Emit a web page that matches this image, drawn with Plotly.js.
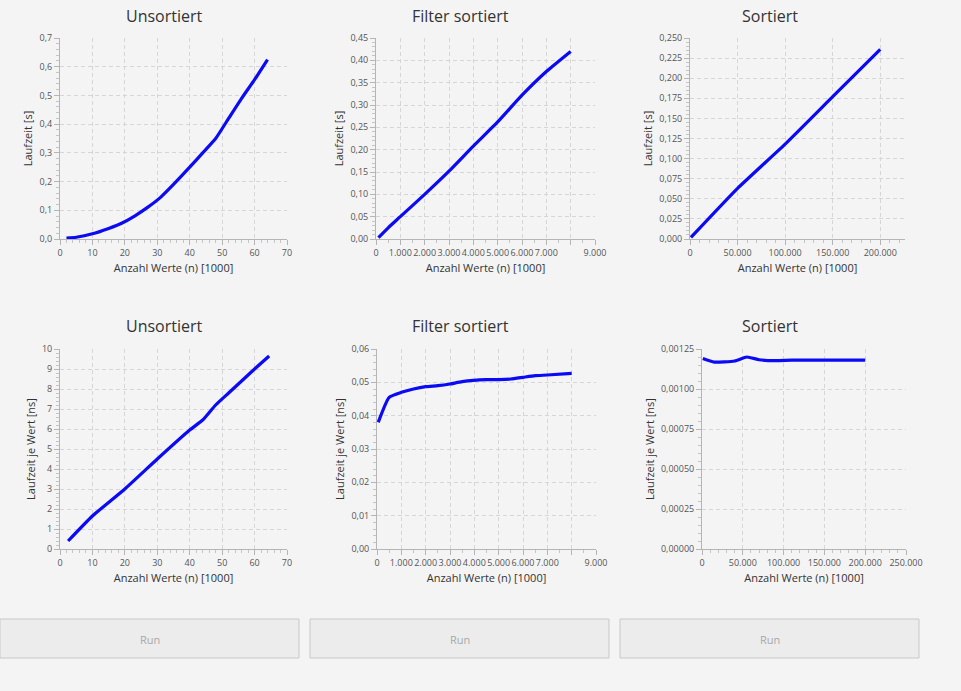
<!DOCTYPE html>
<html>
<head>
<meta charset="utf-8">
<script src="https://cdn.plot.ly/plotly-3.0.1.min.js"></script>
<style>body{margin:0;background:#f4f4f4}#myDiv{width:961px;height:691px}</style>
</head>
<body>
<div id="myDiv"></div>
<script>
// values, x in [1000]
var unsortX = [2, 5, 10, 15, 19, 23, 27, 31, 35, 40, 44, 48, 52, 56, 60, 64];
var unsortT = [0.003, 0.006, 0.018, 0.037, 0.055, 0.08, 0.11, 0.145, 0.19, 0.25, 0.30, 0.35, 0.42, 0.49, 0.555, 0.625];
var unsortPX = [2.5, 10, 20, 30, 40, 44, 48, 52, 56, 60, 64.5];
var unsortP = [0.4, 1.65, 3.0, 4.5, 5.95, 6.45, 7.2, 7.8, 8.4, 9.0, 9.65];

var filterX = [100, 500, 1000, 2000, 3000, 4000, 5000, 6000, 7000, 8000];
var filterT = [0.003, 0.025, 0.05, 0.1, 0.152, 0.208, 0.262, 0.322, 0.375, 0.42];
var filterPX = [50, 500, 1000, 1500, 2000, 2500, 3000, 3500, 4500, 5000, 5500, 6000, 6500, 7000, 8000];
var filterP = [0.038, 0.0455, 0.047, 0.048, 0.0487, 0.049, 0.0495, 0.0502, 0.0508, 0.0508, 0.051, 0.0515, 0.052, 0.0522, 0.0527];

var sortX = [1000, 50000, 100000, 150000, 200000];
var sortT = [0.002, 0.063, 0.118, 0.177, 0.236];
var sortPX = [1000, 15000, 40000, 55000, 70000, 90000, 110000, 150000, 200000];
var sortP = [0.00119, 0.001168, 0.001175, 0.0012, 0.001183, 0.001177, 0.00118, 0.00118, 0.00118];

var titles = ['Unsortiert', 'Filter sortiert', 'Sortiert'];
var W = 961, H = 691;
function px(a, b) { return [a / W, b / W]; }
function py(top, bottom) { return [1 - bottom / H, 1 - top / H]; }

var lineStyle = {color: '#0a0af5', width: 3.2, shape: 'spline', smoothing: 0.5};
var data = [
  {x: unsortX, y: unsortT, xaxis: 'x', yaxis: 'y'},
  {x: filterX, y: filterT, xaxis: 'x2', yaxis: 'y2'},
  {x: sortX, y: sortT, xaxis: 'x3', yaxis: 'y3'},
  {x: unsortPX, y: unsortP, xaxis: 'x4', yaxis: 'y4'},
  {x: filterPX, y: filterP, xaxis: 'x5', yaxis: 'y5'},
  {x: sortPX, y: sortP, xaxis: 'x6', yaxis: 'y6'}
].map(function (t) {
  t.type = 'scatter'; t.mode = 'lines'; t.line = lineStyle; t.hoverinfo = 'x+y';
  return t;
});

var font = 'Open Sans, sans-serif';
function xax(dom, range, dtick, anchor) {
  return {
    domain: dom, range: range, dtick: dtick, tick0: 0, anchor: anchor,
    tickformat: ',d', tickangle: 0, showline: true, linecolor: '#b5b5b5', zeroline: false,
    showgrid: true, gridcolor: '#d6d6d6', griddash: '4px,3px',
    ticks: 'outside', ticklen: 5, tickcolor: '#b5b5b5',
    minor: {ticks: 'outside', ticklen: 3, tickcolor: '#c5c5c5', nticks: 5, showgrid: false},
    tickfont: {family: font, size: 9, color: '#555'},
    title: {text: 'Anzahl Werte (n) [1000]', font: {family: font, size: 11, color: '#333'}, standoff: 6},
    fixedrange: true
  };
}
function yax(dom, range, dtick, fmt, label, anchor) {
  return {
    domain: dom, range: range, dtick: dtick, tick0: 0, anchor: anchor,
    tickformat: fmt, showline: true, linecolor: '#b5b5b5', zeroline: false,
    showgrid: true, gridcolor: '#d6d6d6', griddash: '4px,3px',
    ticks: 'outside', ticklen: 5, tickcolor: '#b5b5b5',
    minor: {ticks: 'outside', ticklen: 3, tickcolor: '#c5c5c5', nticks: 5, showgrid: false},
    tickfont: {family: font, size: 9, color: '#555'},
    title: {text: label, font: {family: font, size: 11, color: '#333'}, standoff: 4},
    fixedrange: true
  };
}

var midTicks = [0, 1000, 2000, 3000, 4000, 5000, 6000, 7000, 8000, 9000];
var midText = ['0', '1.000', '2.000', '3.000', '4.000', '5.000', '6.000', '7.000', '', '9.000'];

var layout = {
  width: W, height: H, margin: {l: 0, r: 0, t: 0, b: 0},
  paper_bgcolor: '#f4f4f4', plot_bgcolor: '#f4f4f4',
  separators: ',.', showlegend: false,
  xaxis: xax(px(60, 287), [0, 70], 10, 'y'),
  yaxis: yax(py(38, 239), [0, 0.7], 0.1, '.1f', 'Laufzeit [s]', 'x'),
  xaxis2: Object.assign(xax(px(376, 595), [0, 9000], 1000, 'y2'), {tickmode: 'array', tickvals: midTicks, ticktext: midText}),
  yaxis2: yax(py(38, 239), [0, 0.45], 0.05, '.2f', 'Laufzeit [s]', 'x2'),
  xaxis3: xax(px(690, 905), [0, 226000], 50000, 'y3'),
  yaxis3: yax(py(38, 239), [0, 0.25], 0.025, '.3f', 'Laufzeit [s]', 'x3'),
  xaxis4: xax(px(60, 287), [0, 70], 10, 'y4'),
  yaxis4: yax(py(349, 549), [0, 10], 1, 'd', 'Laufzeit je Wert [ns]', 'x4'),
  xaxis5: Object.assign(xax(px(377, 596), [0, 9000], 1000, 'y5'), {tickmode: 'array', tickvals: midTicks, ticktext: midText}),
  yaxis5: yax(py(349, 549), [0, 0.06], 0.01, '.2f', 'Laufzeit je Wert [ns]', 'x5'),
  xaxis6: xax(px(702, 906), [0, 250000], 50000, 'y6'),
  yaxis6: yax(py(349, 549), [0, 0.00125], 0.00025, '.5f', 'Laufzeit je Wert [ns]', 'x6'),
  annotations: [],
  shapes: []
};

var titleX = [164, 460, 770];
var titleY = [16, 326];
titleY.forEach(function (ty) {
  titles.forEach(function (t, i) {
    layout.annotations.push({
      xref: 'paper', yref: 'paper', x: titleX[i] / W, y: 1 - ty / H,
      text: t, showarrow: false, xanchor: 'center', yanchor: 'middle',
      font: {family: font, size: 16, color: '#333'}
    });
  });
});

// Run buttons
[0, 310, 620].forEach(function (bx) {
  layout.shapes.push({
    type: 'rect', xref: 'paper', yref: 'paper',
    x0: bx / W, x1: (bx + 299) / W, y0: 1 - 658 / H, y1: 1 - 619 / H,
    line: {color: '#c8c8c8', width: 1}, fillcolor: '#ececec', layer: 'below'
  });
  layout.annotations.push({
    xref: 'paper', yref: 'paper', x: (bx + 150) / W, y: 1 - 639 / H,
    xanchor: 'center', yanchor: 'middle',
    text: 'Run', showarrow: false, font: {family: font, size: 11, color: '#a8a8a8'}
  });
});

Plotly.newPlot('myDiv', data, layout, {displayModeBar: false});
</script>
</body>
</html>
